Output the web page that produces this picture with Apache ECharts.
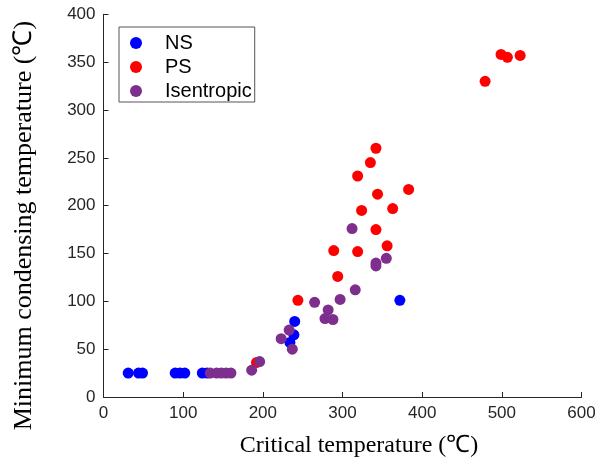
<!DOCTYPE html>
<html>
<head>
<meta charset="utf-8">
<script src="https://cdn.jsdelivr.net/npm/echarts@6/dist/echarts.min.js"></script>
<style>
	html, body { margin: 0; padding: 0; background: #fff; }
	#chartContainer { width: 597px; height: 457px; }
</style>
</head>
<body>
<div id="chartContainer"></div>
<script>
// 数据: [临界温度, 最低冷凝温度]
var nsData = [
	[31, 25], [44, 25], [49, 25], [90, 25], [96, 25], [102, 25],
	[124, 25], [130, 25], [234, 57], [239, 65], [240, 79], [372, 101]
];
var psData = [
	[192, 36], [244, 101], [289, 153], [294, 126], [319, 152], [324, 195],
	[342, 175], [344, 212], [356, 158], [319, 231], [363, 197], [335, 245],
	[342, 260], [383, 217], [479, 330], [499, 358], [507, 355], [523, 357]
];
var isenData = [
	[134, 25], [142, 25], [148, 25], [154, 25], [160, 25], [186, 28],
	[196, 37], [223, 61], [233, 70], [237, 50], [265, 99], [278, 82],
	[282, 91], [288, 81], [297, 102], [316, 112], [312, 176], [342, 137],
	[342, 140], [355, 145]
];
var xTicks = [0, 100, 200, 300, 400, 500, 600];
var yTicks = [0, 50, 100, 150, 200, 250, 300, 350, 400];

var scatterChart = {
	/**
	 * 显示图表
	 */
	showChart : function () {
		var myChart = echarts.init(document.getElementById('chartContainer'));
		var axisColor = '#262626';
		var option = {
			animation: false,
			grid: {
				left: 103.5,
				right: 15.5,
				top: 14.3,
				bottom: 60,
				containLabel: false,
				outerBoundsMode: 'none'
			},
			legend: {
				orient: 'vertical',
				left: 119,
				top: 27,
				width: 120,
				padding: [6, 3, 1, 11],
				itemGap: 4,
				itemWidth: 12,
				itemHeight: 12,
				icon: 'circle',
				borderColor: '#555',
				borderWidth: 1,
				textStyle: {
					fontFamily: 'Liberation Sans',
					fontSize: 20,
					color: '#000',
					padding: [0, 0, 0, 18]
				},
				data: ['NS', 'PS', 'Isentropic']
			},
			xAxis: {
				type: 'value',
				min: xTicks[0],
				max: xTicks[xTicks.length - 1],
				interval: 100,
				name: 'Critical temperature (℃)',
				nameLocation: 'middle',
				nameGap: 37,
				nameTextStyle: {
					fontFamily: 'Liberation Serif',
					fontSize: 24,
					color: '#000',
					padding: [0, 0, 0, 33]
				},
				axisLine: { lineStyle: { color: axisColor } },
				axisTick: { inside: true, length: 5, lineStyle: { color: axisColor } },
				axisLabel: {
					margin: 8,
					fontFamily: 'Liberation Sans',
					fontSize: 17,
					color: axisColor
				},
				splitLine: { show: false }
			},
			yAxis: {
				type: 'value',
				min: yTicks[0],
				max: yTicks[yTicks.length - 1],
				interval: 50,
				name: 'Minimum condensing temperature (℃)',
				nameLocation: 'middle',
				nameGap: 66,
				nameTextStyle: {
					fontFamily: 'Liberation Serif',
					fontSize: 26,
					color: '#000',
					padding: [0, 40, 0, 0]
				},
				axisLine: { show: true, lineStyle: { color: axisColor } },
				axisTick: { show: true, inside: true, length: 5, lineStyle: { color: axisColor } },
				axisLabel: {
					margin: 8,
					fontFamily: 'Liberation Sans',
					fontSize: 17,
					color: axisColor
				},
				splitLine: { show: false }
			},
			series: [
				{
					name: 'NS',
					type: 'scatter',
					symbolSize: 11,
					itemStyle: { color: '#0000FF', opacity: 1 },
					data: nsData
				},
				{
					name: 'PS',
					type: 'scatter',
					symbolSize: 11,
					itemStyle: { color: '#FF0000', opacity: 1 },
					data: psData
				},
				{
					name: 'Isentropic',
					type: 'scatter',
					symbolSize: 11,
					itemStyle: { color: '#7E2F8E', opacity: 1 },
					data: isenData
				}
			]
		};
		// 显示图表。
		myChart.setOption(option);
	}
};

scatterChart.showChart();
</script>
</body>
</html>
